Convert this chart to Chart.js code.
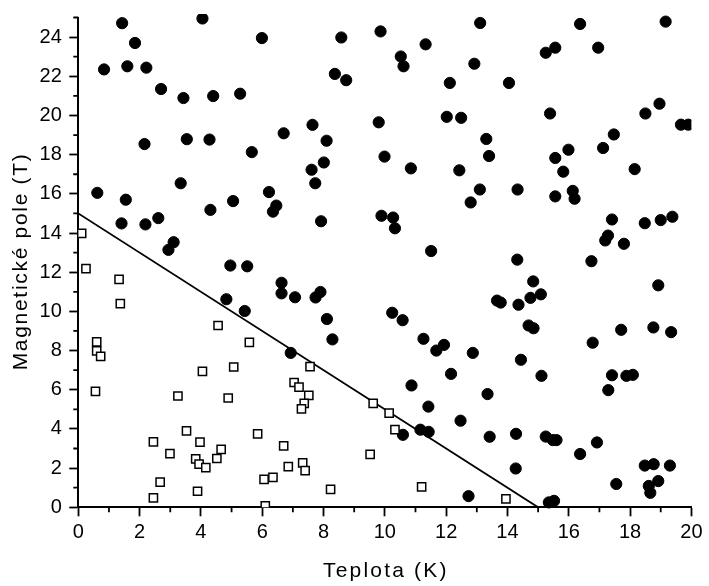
<!DOCTYPE html>
<html lang="cs">
<head>
<meta charset="utf-8">
<title>Magnetické pole vs. teplota</title>
<script src="https://cdn.jsdelivr.net/npm/chart.js@4.4.1/dist/chart.umd.min.js"></script>
<style>
  html, body { margin: 0; padding: 0; background: #fff; }
  #chart { display: block; }
</style>
</head>
<body>
<canvas id="chart" width="709" height="586"></canvas>
<script>
// ── Data ──────────────────────────────
// normal state (filled circles)
const normalT = [1.43, 4.05, 5.99, 1.85, 0.84, 1.60, 2.22, 2.70, 3.43, 4.40, 5.28, 6.70, 2.16, 3.54, 4.28, 5.66,
    3.34, 0.62, 1.55, 4.31, 5.05, 6.22, 6.46, 6.35, 1.41, 2.19, 2.61, 3.11, 2.94, 4.96, 5.51, 6.63, 6.63, 4.83,
    5.43, 6.93, 7.07, 7.74, 7.90, 8.11, 8.29, 10.24, 10.58, 11.26, 11.68, 11.93, 12.87, 13.66, 13.78, 12.16,
    10.87, 13.35, 11.42, 12.47, 11.16, 11.43, 10.59, 13.42, 12.73, 11.51, 14.32, 16.74, 14.84, 18.92, 14.36,
    14.75, 15.09, 14.69, 14.85, 17.71, 18.76, 19.34, 16.78, 14.44, 15.11, 17.41, 17.88, 18.09, 17.29, 14.28,
    15.25, 15.48, 15.60, 16.92, 16.37, 14.27, 18.48, 18.77, 19.30, 18.92, 17.55, 18.61, 18.66, 15.35, 15.52,
    8.58, 9.86, 13.11, 11.33, 10.52, 10.61, 12.92, 8.37, 8.74, 12.12, 7.64, 9.80, 12.02, 12.49, 8.10, 13.31,
    13.40, 8.01, 7.61, 7.73, 9.99, 10.85, 12.43, 13.10, 12.80, 7.92, 9.89, 10.27, 10.33, 16.37, 19.16, 15.56,
    15.25, 16.96, 14.05, 15.39, 18.50, 18.96, 19.66, 19.90, 17.47, 17.12, 15.99, 15.56, 15.82, 18.15, 14.33,
    15.56, 16.13, 16.19, 17.41, 18.48, 19.00, 19.38, 17.28, 17.19, 17.80];
const normalB = [24.71, 24.95, 23.95, 23.70, 22.35, 22.51, 22.44, 21.35, 20.89, 20.99, 21.11, 19.09, 18.54, 18.79,
    18.77, 18.13, 16.54, 16.05, 15.70, 15.18, 15.63, 16.09, 15.40, 15.09, 14.49, 14.44, 14.76, 13.53, 13.14,
    12.34, 12.30, 11.46, 10.92, 10.62, 10.02, 7.88, 10.72, 10.71, 10.99, 9.61, 8.57, 9.93, 9.55, 8.60, 8.00,
    8.29, 7.88, 10.55, 10.45, 6.81, 6.22, 5.78, 5.14, 4.42, 3.96, 3.85, 3.70, 3.60, 0.57, 13.08, 12.64, 12.56,
    11.53, 11.33, 10.34, 10.69, 10.87, 9.28, 9.14, 9.06, 9.18, 8.94, 8.40, 7.53, 6.71, 6.74, 6.71, 6.76, 5.98,
    3.75, 3.61, 3.43, 3.43, 3.31, 2.72, 1.98, 2.13, 2.20, 2.13, 1.34, 1.19, 1.09, 0.74, 0.25, 0.33,
    23.98, 24.29, 24.72, 23.63, 23.01, 22.51, 22.64, 22.12, 21.80, 21.66, 19.52, 19.65, 19.93, 19.88, 18.71,
    18.80, 17.93, 17.60, 17.23, 16.54, 17.90, 17.30, 17.20, 16.22, 15.56, 14.60, 14.88, 14.79, 14.24, 24.67,
    24.79, 23.46, 23.20, 23.46, 21.66, 20.10, 20.10, 20.60, 19.53, 19.53, 19.03, 18.34, 18.25, 17.83, 17.13,
    17.26, 16.22, 15.87, 16.15, 15.75, 14.69, 14.50, 14.66, 14.83, 13.87, 13.62, 13.45];

// superconducting state (open squares)
const superT = [0.11, 0.25, 1.33, 1.37, 4.56, 5.58, 0.60, 0.60, 0.73, 4.05, 5.07, 0.56, 3.25, 4.89, 3.53, 5.85,
    2.45, 3.97, 6.70, 2.99, 4.66, 3.83, 4.52, 3.94, 4.16, 6.85, 6.06, 6.35, 2.67, 3.89, 2.45, 6.10, 7.56, 7.04,
    7.20, 7.52, 7.37, 7.28, 7.32, 7.40, 8.23, 9.62, 10.14, 10.33, 9.52, 11.20, 13.95];
const superB = [13.98, 12.18, 11.63, 10.40, 9.28, 8.42, 8.44, 7.98, 7.70, 6.94, 7.16, 5.92, 5.68, 5.58, 3.90,
    3.75, 3.34, 3.33, 3.14, 2.74, 2.96, 2.47, 2.49, 2.20, 2.03, 2.08, 1.43, 1.53, 1.28, 0.82, 0.48, 0.08, 7.18,
    6.37, 6.13, 5.71, 5.30, 5.02, 2.27, 1.87, 0.91, 5.30, 4.81, 3.96, 2.70, 1.04, 0.43];

// boundary line
const boundaryT = [0, 15];
const boundaryB = [15, 0];

// ticks
const xMajor = [0, 2, 4, 6, 8, 10, 12, 14, 16, 18, 20];
const xMinor = [1, 3, 5, 7, 9, 11, 13, 15, 17, 19];
const yMajor = [0, 2, 4, 6, 8, 10, 12, 14, 16, 18, 20, 22, 24];
const yMinor = [1, 3, 5, 7, 9, 11, 13, 15, 17, 19, 21, 23, 25];

const FONT = '"Liberation Sans", Arial, Helvetica, sans-serif';
const toPoints = (xs, ys) => xs.map((x, i) => ({ x: x, y: ys[i] }));

// ── Minor ticks + axis titles ─────────
const extras = {
    id: 'extras',
    afterDraw(chart) {
        const { ctx, chartArea: a, scales: { x, y } } = chart;
        ctx.save();
        ctx.strokeStyle = '#000';
        ctx.lineWidth = 1.8;
        ctx.beginPath();
        xMinor.forEach(v => { const px = x.getPixelForValue(v); ctx.moveTo(px, a.bottom); ctx.lineTo(px, a.bottom + 5); });
        yMinor.forEach(v => { const py = y.getPixelForValue(v); ctx.moveTo(a.left, py); ctx.lineTo(a.left - 5, py); });
        ctx.stroke();

        ctx.fillStyle = '#000';
        ctx.font = '21px ' + FONT;
        ctx.textAlign = 'center';
        ctx.textBaseline = 'alphabetic';
        ctx.letterSpacing = '2.2px';
        ctx.fillText('Teplota (K)', (a.left + a.right) / 2 + 1, a.bottom + 69.5);

        ctx.letterSpacing = '1.7px';
        ctx.translate(26.7, (a.top + a.bottom) / 2);
        ctx.rotate(-Math.PI / 2);
        ctx.fillText('Magnetické pole (T)', 1, 0);
        ctx.restore();
    }
};

// ── Chart ─────────────────────────────
new Chart(document.getElementById('chart'), {
    type: 'scatter',
    data: {
        datasets: [
            { data: toPoints(superT, superB), pointStyle: 'rect', pointRadius: 5.8, backgroundColor: '#fff', borderColor: '#000', borderWidth: 1.5 },
            { type: 'line', data: toPoints(boundaryT, boundaryB), showLine: true, borderColor: '#000', borderWidth: 1.8, pointRadius: 0, fill: false },
            { data: toPoints(normalT, normalB), pointStyle: 'circle', pointRadius: 5.6, backgroundColor: '#000', borderColor: '#000', borderWidth: 1, clip: { left: 0, right: 0, top: 3.5, bottom: 8 } }
        ]
    },
    options: {
        responsive: false,
        animation: false,
        events: [],
        layout: { padding: { left: 0, top: 11.5, right: 13.3, bottom: 0 } },
        plugins: { legend: { display: false }, tooltip: { enabled: false } },
        scales: {
            x: {
                type: 'linear', min: 0, max: 20,
                afterBuildTicks: s => { s.ticks = xMajor.map(v => ({ value: v })); },
                afterFit: s => { s.height = 78.7; },
                border: { display: true, color: '#000', width: 2 },
                grid: { drawOnChartArea: false, drawTicks: true, tickLength: 9, tickWidth: 1.8, tickColor: '#000' },
                ticks: { color: '#000', font: { family: FONT, size: 20, lineHeight: 1 }, padding: 6.5, maxRotation: 0, autoSkip: false }
            },
            y: {
                type: 'linear', min: 0, max: 25,
                afterBuildTicks: s => { s.ticks = yMajor.map(v => ({ value: v })); },
                afterFit: s => { s.width = 78.3; },
                border: { display: true, color: '#000', width: 2 },
                grid: { drawOnChartArea: false, drawTicks: true, tickLength: 9, tickWidth: 1.8, tickColor: '#000' },
                ticks: { color: '#000', font: { family: FONT, size: 20, lineHeight: 1 }, padding: 7.5, autoSkip: false }
            }
        }
    },
    plugins: [extras]
});
</script>
</body>
</html>
